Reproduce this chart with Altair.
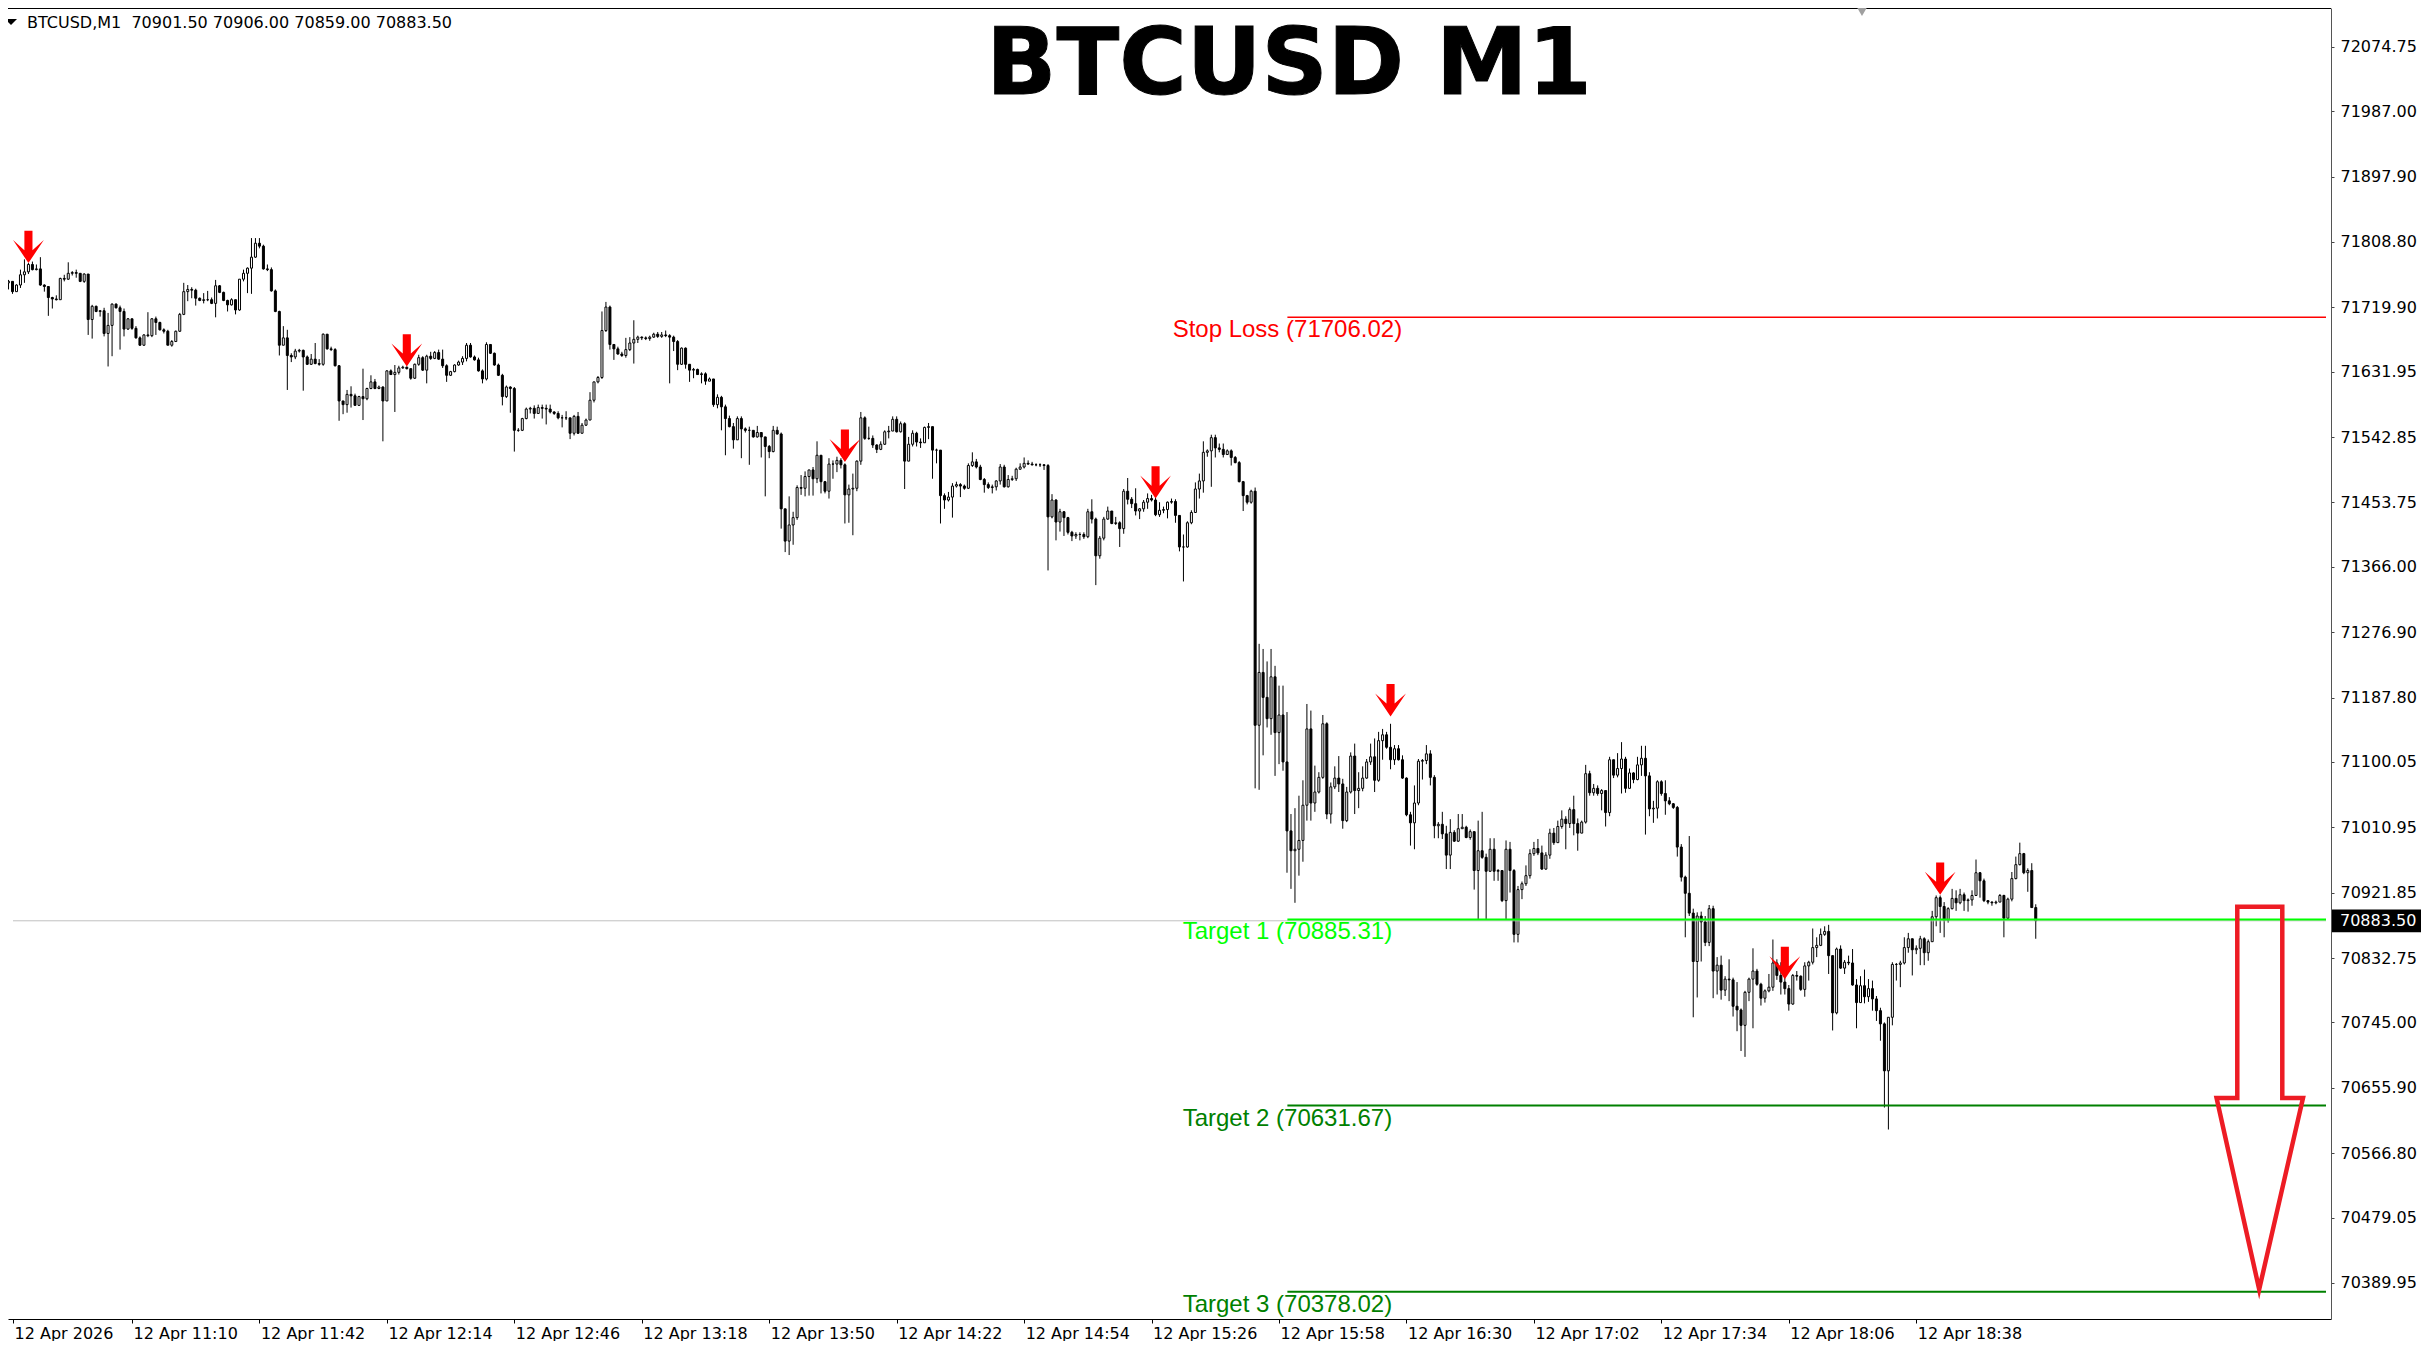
import altair as alt
import pandas as pd

# ---------------- data: BTCUSD M1 candles, 12 Apr 2026, 10:38 -> 19:08 ----------------
first_open = 71750.0

seg1_close = [71753, 71755, 71741, 71750, 71764, 71768, 71778, 71771, 71772, 71750,
              71748, 71733, 71731, 71730, 71759, 71758, 71766, 71767, 71766, 71755,
              71765, 71703, 71721, 71714, 71715, 71684, 71695, 71724, 71719, 71714,
              71690, 71704, 71691, 71678, 71668, 71682, 71681, 71704, 71699, 71689,
              71687, 71668, 71673, 71687, 71710, 71741, 71744, 71743, 71732, 71729,
              71730, 71730, 71725, 71749, 71740, 71729, 71723, 71730, 71716, 71758,
              71766, 71773, 71788, 71807, 71803, 71772, 71771, 71742]
seg1_high = [71757, 71757, 71753, 71751, 71771, 71785, 71780, 71782, 71778, 71788,
             71751, 71748, 71734, 71736, 71760, 71764, 71781, 71769, 71771, 71766,
             71766, 71765, 71723, 71722, 71716, 71719, 71712, 71725, 71725, 71722,
             71718, 71705, 71704, 71694, 71680, 71683, 71713, 71705, 71707, 71700,
             71691, 71689, 71675, 71688, 71712, 71753, 71750, 71747, 71745, 71733,
             71739, 71742, 71733, 71757, 71750, 71741, 71730, 71732, 71730, 71758,
             71771, 71774, 71814, 71814, 71814, 71805, 71778, 71774]
seg1_low = [71748, 71744, 71738, 71741, 71746, 71753, 71765, 71770, 71770, 71749,
            71741, 71708, 71718, 71729, 71730, 71755, 71757, 71763, 71760, 71754,
            71753, 71682, 71677, 71713, 71707, 71680, 71639, 71653, 71718, 71662,
            71680, 71689, 71689, 71677, 71667, 71667, 71679, 71679, 71682, 71688,
            71684, 71668, 71666, 71674, 71686, 71709, 71728, 71732, 71722, 71728,
            71725, 71728, 71724, 71706, 71739, 71728, 71714, 71722, 71710, 71715,
            71755, 71739, 71738, 71787, 71800, 71771, 71769, 71741]

seg2_close = [71714, 71668, 71678, 71654, 71652, 71660, 71661, 71652, 71642, 71649,
              71643, 71642, 71683, 71663, 71662, 71640, 71592, 71587, 71601, 71599,
              71586, 71598, 71595, 71609, 71618, 71609, 71611, 71592, 71633, 71628,
              71631, 71637, 71638, 71636, 71623, 71642, 71651, 71634, 71653, 71650,
              71658, 71649, 71640, 71627, 71632, 71641, 71645, 71650, 71668, 71652,
              71648, 71633, 71622, 71669, 71657, 71641, 71627, 71598, 71611, 71609,
              71552, 71552, 71568, 71581, 71582]
seg2_high = [71744, 71715, 71694, 71689, 71657, 71663, 71663, 71662, 71654, 71656,
             71671, 71649, 71684, 71682, 71666, 71664, 71641, 71589, 71607, 71612,
             71602, 71599, 71636, 71610, 71627, 71622, 71613, 71612, 71634, 71635,
             71641, 71640, 71640, 71639, 71636, 71643, 71655, 71653, 71655, 71659,
             71660, 71662, 71662, 71642, 71633, 71642, 71647, 71653, 71671, 71671,
             71654, 71651, 71635, 71672, 71669, 71658, 71643, 71629, 71613, 71612,
             71611, 71555, 71569, 71583, 71584]
seg2_low = [71713, 71654, 71668, 71607, 71645, 71649, 71658, 71606, 71641, 71641,
            71642, 71640, 71640, 71662, 71660, 71639, 71565, 71574, 71576, 71583,
            71586, 71586, 71566, 71593, 71608, 71608, 71608, 71537, 71593, 71628,
            71577, 71628, 71636, 71635, 71621, 71622, 71640, 71633, 71616, 71648,
            71649, 71648, 71637, 71618, 71626, 71631, 71640, 71641, 71646, 71651,
            71647, 71632, 71616, 71620, 71656, 71640, 71626, 71586, 71596, 71576,
            71523, 71550, 71551, 71567, 71575]

seg3_close = [71575, 71583, 71582, 71581, 71577, 71575, 71569, 71569, 71569, 71548,
              71571, 71548, 71559, 71566, 71593, 71618, 71624, 71688, 71720, 71669,
              71663, 71656, 71654, 71662, 71671, 71676, 71679, 71678, 71677, 71679,
              71683, 71680, 71682, 71681, 71679, 71673, 71642, 71664, 71642, 71634,
              71635, 71628, 71629, 71619, 71622, 71587, 71597, 71584, 71568, 71557,
              71539, 71568, 71554, 71552, 71552, 71543, 71549, 71543, 71530, 71523,
              71552, 71547, 71445, 71401, 71423, 71433, 71474, 71473, 71489, 71498]
seg3_high = [71586, 71587, 71587, 71587, 71587, 71578, 71578, 71573, 71578, 71569,
             71573, 71577, 71562, 71568, 71604, 71618, 71626, 71714, 71727, 71722,
             71669, 71666, 71659, 71678, 71679, 71702, 71681, 71680, 71680, 71681,
             71685, 71686, 71686, 71688, 71683, 71681, 71675, 71665, 71665, 71641,
             71637, 71636, 71631, 71631, 71624, 71622, 71601, 71599, 71587, 71572,
             71562, 71571, 71571, 71556, 71557, 71552, 71558, 71549, 71541, 71532,
             71558, 71557, 71549, 71441, 71462, 71441, 71477, 71491, 71496, 71498]
seg3_low = [71568, 71575, 71568, 71560, 71575, 71573, 71567, 71556, 71566, 71540,
            71545, 71547, 71549, 71558, 71566, 71590, 71616, 71622, 71686, 71662,
            71648, 71655, 71652, 71651, 71660, 71643, 71671, 71675, 71675, 71674,
            71678, 71678, 71678, 71679, 71616, 71660, 71634, 71641, 71636, 71618,
            71623, 71628, 71616, 71614, 71619, 71584, 71582, 71552, 71518, 71556,
            71527, 71539, 71514, 71549, 71505, 71542, 71542, 71515, 71462, 71514,
            71522, 71546, 71418, 71386, 71382, 71396, 71430, 71464, 71462, 71463]

seg4_close = [71486, 71518, 71482, 71469, 71506, 71506, 71511, 71505, 71464, 71472,
              71473, 71510, 71569, 71541, 71541, 71532, 71526, 71533, 71550, 71551,
              71567, 71550, 71561, 71510, 71533, 71548, 71536, 71535, 71556, 71557,
              71525, 71525, 71463, 71457, 71461, 71476, 71478, 71476, 71473, 71504,
              71509, 71502, 71485, 71478, 71474, 71475, 71483, 71502, 71475, 71485,
              71486, 71499, 71502, 71507, 71506, 71505, 71505, 71505, 71504]
seg4_high = [71502, 71537, 71518, 71483, 71514, 71511, 71516, 71514, 71507, 71478,
             71493, 71511, 71577, 71571, 71557, 71545, 71533, 71537, 71552, 71558,
             71571, 71571, 71564, 71563, 71543, 71552, 71550, 71541, 71557, 71562,
             71545, 71527, 71525, 71466, 71468, 71480, 71482, 71480, 71478, 71507,
             71522, 71513, 71505, 71487, 71481, 71478, 71484, 71506, 71505, 71491,
             71490, 71501, 71507, 71515, 71511, 71509, 71507, 71507, 71506]
seg4_low = [71463, 71480, 71466, 71466, 71459, 71486, 71495, 71500, 71425, 71426,
            71409, 71469, 71505, 71539, 71539, 71528, 71521, 71525, 71532, 71541,
            71551, 71549, 71549, 71472, 71510, 71530, 71530, 71528, 71536, 71540,
            71486, 71507, 71425, 71445, 71455, 71433, 71474, 71461, 71471, 71472,
            71502, 71500, 71484, 71467, 71472, 71466, 71470, 71478, 71474, 71474,
            71483, 71483, 71498, 71500, 71505, 71504, 71503, 71502, 71498]

seg5_close = [71434, 71457, 71427, 71441, 71433, 71413, 71408, 71410, 71410, 71407,
              71441, 71431, 71381, 71405, 71431, 71442, 71425, 71426, 71418, 71469,
              71458, 71452, 71442, 71445, 71454, 71459, 71457, 71437, 71443, 71444,
              71454, 71455, 71436, 71393, 71393, 71426, 71440, 71472, 71483, 71522,
              71524, 71542, 71528, 71526, 71519, 71524, 71515, 71508, 71482, 71463,
              71454, 71469, 71150, 71222, 71188, 71159, 71216, 71140, 71164, 71100, 71006]
seg5_high = [71506, 71465, 71458, 71445, 71442, 71434, 71415, 71413, 71413, 71413,
             71445, 71458, 71433, 71408, 71434, 71448, 71441, 71434, 71428, 71472,
             71487, 71461, 71473, 71446, 71457, 71466, 71464, 71460, 71454, 71448,
             71455, 71459, 71458, 71436, 71410, 71428, 71443, 71481, 71493, 71537,
             71526, 71546, 71546, 71534, 71534, 71526, 71526, 71517, 71510, 71483,
             71464, 71471, 71474, 71261, 71254, 71237, 71254, 71231, 71204, 71204, 71168]
seg5_low = [71361, 71432, 71402, 71414, 71408, 71410, 71401, 71404, 71402, 71404,
            71405, 71425, 71341, 71377, 71402, 71430, 71424, 71423, 71393, 71411,
            71451, 71446, 71436, 71431, 71441, 71445, 71455, 71435, 71434, 71439,
            71432, 71452, 71426, 71387, 71346, 71392, 71424, 71440, 71459, 71467,
            71516, 71475, 71515, 71522, 71515, 71519, 71504, 71507, 71481, 71442,
            71451, 71452, 71064, 71062, 71109, 71147, 71137, 71081, 71097, 71088, 70949]

seg6_close = [70979, 70981, 70993, 71041, 71145, 71044, 71059, 71079, 71152, 71029,
              71066, 71078, 71070, 71020, 71059, 71108, 71061, 71064, 71078, 71100,
              71107, 71075, 71129, 71137, 71120, 71103, 71118, 71103, 71078, 71028,
              71017, 71044, 71101, 71102, 71111, 71079, 71013, 71015, 71002, 70973,
              71004, 70992, 71009, 71011, 70997, 71005, 70952, 70979, 70970, 70951,
              70981, 70951, 70952, 70911, 70981, 70952, 70865, 70926, 70934, 70945,
              70975, 70982, 70976, 70954, 70973]
seg6_high = [71029, 71037, 71054, 71075, 71179, 71170, 71095, 71086, 71164, 71154,
             71072, 71094, 71108, 71077, 71066, 71113, 71125, 71086, 71094, 71104,
             71125, 71132, 71141, 71145, 71141, 71152, 71123, 71123, 71109, 71079,
             71032, 71068, 71104, 71104, 71123, 71116, 71082, 71018, 71032, 71013,
             71022, 71007, 71029, 71029, 71013, 71008, 71003, 71020, 71032, 70975,
             70996, 70996, 70954, 70943, 70993, 70991, 70954, 70931, 70937, 70959,
             70981, 70991, 70995, 70986, 70977]
seg6_low = [70927, 70908, 70945, 70964, 71020, 71020, 71032, 71057, 71077, 71022,
            71016, 71063, 71059, 71009, 71018, 71057, 71029, 71037, 71060, 71077,
            71096, 71059, 71073, 71103, 71118, 71090, 71096, 71102, 71077, 71026,
            70986, 70981, 71041, 71076, 71097, 71068, 70996, 70996, 70995, 70954,
            70954, 70991, 70991, 71009, 70996, 70994, 70926, 70886, 70968, 70886,
            70950, 70938, 70938, 70909, 70886, 70922, 70854, 70854, 70913, 70931,
            70941, 70972, 70973, 70953, 70953]

seg7_close = [71003, 70990, 71012, 71022, 71016, 71035, 71016, 71003, 71018, 71084,
              71058, 71064, 71057, 71061, 71031, 71103, 71082, 71091, 71104, 71064,
              71085, 71076, 71096, 71105, 71081, 71036, 71037, 71073, 71057, 71047,
              71043, 71038, 70984, 70943, 70921, 70894, 70828, 70890, 70882, 70854,
              70900, 70815, 70823, 70789, 70804, 70803, 70767, 70762, 70741, 70786,
              70804, 70815, 70797, 70778, 70788, 70793, 70826, 70809, 70800, 70791]
seg7_high = [71009, 71010, 71020, 71034, 71026, 71038, 71054, 71023, 71020, 71096,
             71088, 71070, 71068, 71063, 71061, 71107, 71100, 71112, 71127, 71107,
             71091, 71086, 71107, 71122, 71122, 71086, 71047, 71075, 71075, 71075,
             71052, 71044, 71040, 70988, 70945, 70999, 70900, 70895, 70896, 70890,
             70905, 70904, 70834, 70836, 70808, 70831, 70806, 70800, 70764, 70788,
             70806, 70846, 70818, 70799, 70790, 70811, 70858, 70831, 70827, 70815]
seg7_low = [70968, 70987, 70990, 71009, 70981, 71010, 71000, 70979, 71003, 71016,
            71054, 71054, 71054, 71034, 71012, 71026, 71078, 71079, 71057, 71058,
            71068, 71071, 71075, 71081, 71001, 71026, 71017, 71023, 71054, 71028,
            71041, 71036, 70971, 70937, 70861, 70890, 70752, 70779, 70828, 70849,
            70849, 70778, 70783, 70776, 70781, 70774, 70753, 70733, 70706, 70698,
            70774, 70737, 70795, 70768, 70772, 70786, 70788, 70803, 70783, 70783]

seg8_close = [70770, 70809, 70808, 70790, 70822, 70827, 70847, 70850, 70865, 70869,
              70836, 70758, 70845, 70819, 70827, 70826, 70796, 70772, 70795, 70780,
              70791, 70777, 70761, 70743, 70679, 70752, 70824, 70824, 70826, 70847,
              70859, 70844, 70846, 70859, 70840, 70855, 70889, 70915, 70903, 70884,
              70900, 70914, 70908, 70919, 70911, 70912, 70918, 70949, 70938, 70911,
              70909, 70908, 70909, 70918, 70887, 70913, 70941, 70960, 70975, 70949,
              70952, 70901.5, 70883.5]
seg8_high = [70796, 70811, 70815, 70809, 70827, 70829, 70873, 70861, 70873, 70876,
             70878, 70836, 70847, 70850, 70830, 70836, 70845, 70804, 70808, 70817,
             70804, 70802, 70781, 70765, 70745, 70752, 70827, 70826, 70829, 70861,
             70867, 70859, 70850, 70863, 70861, 70858, 70897, 70918, 70918, 70909,
             70902, 70927, 70925, 70927, 70922, 70914, 70925, 70967, 70950, 70941,
             70911, 70910, 70911, 70920, 70919, 70915, 70950, 70971, 70990, 70976,
             70955, 70962, 70906]
seg8_low = [70761, 70769, 70802, 70788, 70780, 70802, 70824, 70834, 70849, 70863,
            70811, 70734, 70756, 70818, 70811, 70823, 70795, 70737, 70772, 70771,
            70773, 70761, 70747, 70720, 70629, 70599, 70741, 70802, 70793, 70824,
            70840, 70809, 70838, 70823, 70823, 70829, 70855, 70876, 70867, 70861,
            70881, 70899, 70897, 70906, 70897, 70896, 70904, 70920, 70915, 70909,
            70906, 70904, 70906, 70909, 70861, 70886, 70910, 70940, 70959, 70947,
            70923, 70905, 70859]

# sell-signal arrows (bar number, price at arrow centre)
signal_bars = [7, 102, 212, 290, 349, 448, 487]
signal_prices = [71802, 71661, 71531, 71481, 71184, 70826, 70941]

# trade levels
level_names = ["Stop Loss", "Target 1", "Target 2", "Target 3"]
level_prices = [71706.02, 70885.31, 70631.67, 70378.02]
level_start_bar = 323.1

# big target arrow outline (bar, price)
target_arrow_bars = [561.6, 572.9, 572.9, 578.1, 567.1, 556.4, 561.6, 561.6, 572.9]
target_arrow_prices = [70902.7, 70902.7, 70641.9, 70641.9, 70381.2, 70641.9, 70641.9, 70902.7, 70902.7]

# axes
y_tick_values = [72074.75, 71987.00, 71897.90, 71808.80, 71719.90, 71631.95, 71542.85,
                 71453.75, 71366.00, 71276.90, 71187.80, 71100.05, 71010.95, 70921.85,
                 70832.75, 70745.00, 70655.90, 70566.80, 70479.05, 70389.95]
x_label_bars = [1, 33, 65, 97, 129, 161, 193, 225, 257, 289, 321, 353, 385, 417, 449, 481]
x_label_texts = ["12 Apr 2026", "12 Apr 11:10", "12 Apr 11:42", "12 Apr 12:14", "12 Apr 12:46",
                 "12 Apr 13:18", "12 Apr 13:50", "12 Apr 14:22", "12 Apr 14:54", "12 Apr 15:26",
                 "12 Apr 15:58", "12 Apr 16:30", "12 Apr 17:02", "12 Apr 17:34", "12 Apr 18:06",
                 "12 Apr 18:38"]
chart_title = "BTCUSD M1"
symbol_name = "BTCUSD,M1"

# ---------------- build frame ----------------
closes, highs, lows = [], [], []
for c, h, l in [(seg1_close, seg1_high, seg1_low), (seg2_close, seg2_high, seg2_low),
                (seg3_close, seg3_high, seg3_low), (seg4_close, seg4_high, seg4_low),
                (seg5_close, seg5_high, seg5_low), (seg6_close, seg6_high, seg6_low),
                (seg7_close, seg7_high, seg7_low), (seg8_close, seg8_high, seg8_low)]:
    n = min(len(c), len(h), len(l))
    closes += c[:n]
    highs += h[:n]
    lows += l[:n]

opens = [first_open] + closes[:-1]
df = pd.DataFrame({"bar": list(range(1, len(closes) + 1)), "open": opens,
                   "high": highs, "low": lows, "close": closes})
df["hi"] = df[["high", "open", "close"]].max(axis=1)
df["lo"] = df[["low", "open", "close"]].min(axis=1)
df["up"] = df["close"] >= df["open"]

last = df.iloc[-1]

X_MIN, X_MAX = 3.125, 583.875
Y_MIN, Y_MAX = 70340.75, 72127.6
W, H = 2323, 1311

xs = alt.Scale(domain=[X_MIN, X_MAX], nice=False, zero=False)
ys = alt.Scale(domain=[Y_MIN, Y_MAX], nice=False, zero=False)

FONT = "DejaVu Sans"

tick_vals = [max(b, X_MIN) for b in x_label_bars]
label_expr = "".join(f"datum.value == {v} ? '{t}' : " for v, t in zip(tick_vals, x_label_texts)) + "''"

x_axis = alt.Axis(values=tick_vals, labelExpr=label_expr, orient="bottom", title=None, grid=False,
                  labelAlign="left", labelOffset=1, labelPadding=2, tickSize=4, tickColor="black",
                  domainColor="black", labelFont=FONT, labelFontSize=16, labelColor="black",
                  labelOverlap=False, labelFlush=False, labelBaseline="top")
y_axis = alt.Axis(values=y_tick_values, format=".2f", orient="right", title=None, grid=False,
                  tickSize=3, labelPadding=6, labelAlign="left", tickColor="#444444",
                  domainColor="#555555", labelFont=FONT, labelFontSize=16, labelColor="black",
                  labelOverlap=False, labelFlush=False)


def X(field):
    return alt.X(field, type="quantitative", scale=xs, axis=x_axis)


def Y(field):
    return alt.Y(field, type="quantitative", scale=ys, axis=y_axis)


wicks = alt.Chart(df).mark_rule(color="black", strokeWidth=1, clip=True).encode(
    x=X("bar"), y=Y("lo"), y2="hi:Q",
)
bodies = alt.Chart(df).mark_bar(width=2, stroke="black", strokeWidth=1, clip=True).encode(
    x=X("bar"), y=Y("open"), y2="close:Q",
    fill=alt.condition("datum.up", alt.value("white"), alt.value("black")),
)

bid = alt.Chart(pd.DataFrame({"a": [X_MIN], "b": [X_MAX], "p": [last["close"]]})).mark_rule(
    color="#C0C0C0", strokeWidth=1, clip=True).encode(x=X("a"), x2="b:Q", y=Y("p"))

level_colors = {"Stop Loss": "#FF0000", "Target 1": "#00FF00", "Target 2": "#008000", "Target 3": "#008000"}
level_widths = {"Stop Loss": 1.6, "Target 1": 2, "Target 2": 2, "Target 3": 2}
level_layers = []
for name, price in zip(level_names, level_prices):
    d = pd.DataFrame({"a": [level_start_bar], "b": [X_MAX], "p": [price],
                      "t": [f"{name} ({price:.2f})"]})
    level_layers.append(alt.Chart(d).mark_rule(color=level_colors[name], strokeWidth=level_widths[name],
                                               clip=True).encode(x=X("a"), x2="b:Q", y=Y("p")))
    level_layers.append(alt.Chart(d).mark_text(color=level_colors[name], font="Liberation Sans",
                                               fontSize=24, align="center", baseline="alphabetic",
                                               dy=20).encode(x=X("a"), y=Y("p"), text="t:N"))

arrow_path = "M-0.25,-1L0.25,-1L0.25,0.2L0.95,-0.42L0,1L-0.95,-0.42L-0.25,0.2Z"
signals = alt.Chart(pd.DataFrame({"bar": signal_bars, "p": signal_prices})).mark_point(
    shape=arrow_path, filled=True, color="#FF0000", size=1050, opacity=1, strokeWidth=0
).encode(x=X("bar"), y=Y("p"))

big_arrow = alt.Chart(pd.DataFrame({"bar": target_arrow_bars, "p": target_arrow_prices,
                                    "i": list(range(len(target_arrow_bars)))})).mark_line(
    color="#ED1C24", strokeWidth=4.5, strokeJoin="miter", strokeMiterLimit=10, clip=False
).encode(x=X("bar"), y=Y("p"), order="i:Q")

title = alt.Chart(pd.DataFrame({"t": [chart_title]})).mark_text(
    font="DejaVu Sans", fontSize=92, fontWeight="bold", color="black", stroke="black",
    strokeWidth=1, align="center", baseline="alphabetic"
).encode(x=alt.value(1281), y=alt.value(86), text="t:N")

header_txt = f"{symbol_name}\u00a0\u00a0{last['open']:.2f} {last['high']:.2f} {last['low']:.2f} {last['close']:.2f}"
header = alt.Chart(pd.DataFrame({"t": [header_txt]})).mark_text(
    font=FONT, fontSize=16, color="black", align="left", baseline="alphabetic"
).encode(x=alt.value(19), y=alt.value(20), text="t:N")
header_tri = alt.Chart(pd.DataFrame({"t": [0]})).mark_point(
    shape="M-1,-0.5L1,-0.5L0,0.5Z", filled=True, color="black", size=144, opacity=1, strokeWidth=0
).encode(x=alt.value(3), y=alt.value(14))

top_frame = alt.Chart(pd.DataFrame({"t": [0]})).mark_rule(color="black", strokeWidth=1).encode(
    x=alt.value(0), x2=alt.value(W), y=alt.value(0.5))
shift_marker = alt.Chart(pd.DataFrame({"t": [0]})).mark_point(
    shape="triangle-down", filled=True, color="#A0A0A0", size=90, opacity=1, strokeWidth=0
).encode(x=alt.value(1854), y=alt.value(4))

tag = alt.Chart(pd.DataFrame({"p": [last["close"]]})).transform_calculate(
    top="datum.p + 15.5", bot="datum.p - 15.5"
).mark_rect(color="black", clip=False).encode(
    x=alt.value(W + 1), x2=alt.value(W + 90), y=Y("top"), y2="bot:Q")
tag_text = alt.Chart(pd.DataFrame({"p": [last["close"]], "t": [f"{last['close']:.2f}"]})).mark_text(
    font=FONT, fontSize=16, color="white", align="left", baseline="middle", clip=False
).encode(x=alt.value(W + 9), y=Y("p"), text="t:N")

chart = alt.layer(
    wicks, bodies, bid, *level_layers, signals, big_arrow, title, header, header_tri,
    top_frame, shift_marker, tag, tag_text
).properties(
    width=W, height=H,
    background="white",
    autosize=alt.AutoSizeParams(type="none"),
    padding={"left": 0, "top": 0, "right": 92, "bottom": 22},
).configure_view(stroke=None)

chart.save("out.html", embed_options={"renderer": "svg", "actions": False})
